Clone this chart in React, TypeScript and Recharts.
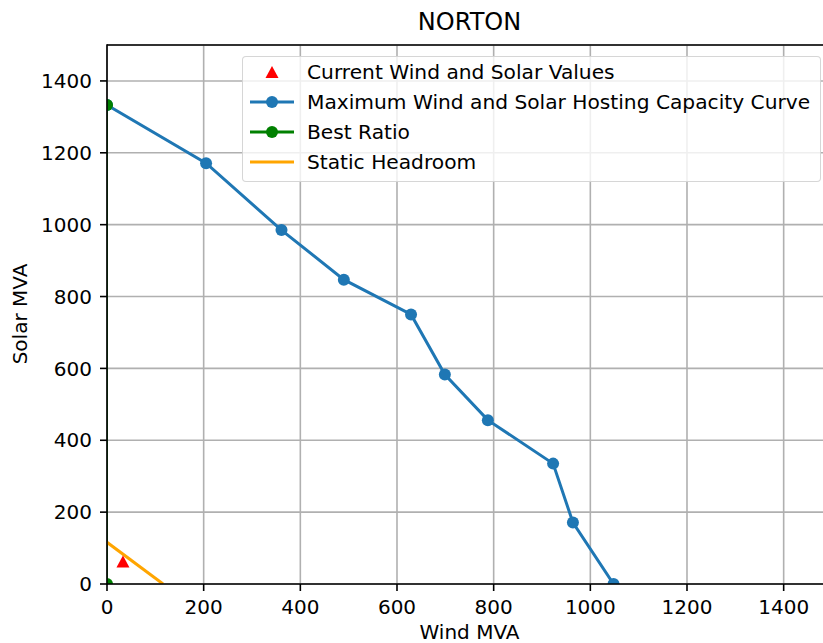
import { CartesianGrid, ComposedChart, Line, Scatter, XAxis, YAxis } from 'recharts'

const windTicks = [0, 200, 400, 600, 800, 1000, 1200, 1400]
const solarTicks = [0, 200, 400, 600, 800, 1000, 1200, 1400]

const curveWind = [0, 205, 361, 490, 629, 699, 788, 923, 964, 1048]
const curveSolar = [1333, 1171, 985, 847, 750, 583, 456, 335, 171, 0]

const currentWind = [33]
const currentSolar = [61]

const bestWind = [0, 0]
const bestSolar = [0, 1333]

const headroomWind = [0, 116]
const headroomSolar = [116, 0]

const FONT = "'DejaVu Sans', sans-serif"
const BLUE = '#1f77b4'
const GREEN = '#008000'
const RED = '#ff0000'
const ORANGE = '#ffa500'

// plot box in page pixels (matches the chart margins below)
const PLOT = { x: 107, y: 45, w: 725, h: 539 }

const toPoints = (xs: number[], ys: number[]) => xs.map((wind, i) => ({ wind, solar: ys[i] }))

const curvePoints = toPoints(curveWind, curveSolar)
const currentPoints = toPoints(currentWind, currentSolar)
const bestPoints = toPoints(bestWind, bestSolar)
const headroomPoints = toPoints(headroomWind, headroomSolar)

function Triangle({ cx, cy }: { cx?: number; cy?: number }) {
  if (cx == null || cy == null) return null
  return <path d={`M${cx},${cy - 6.5} L${cx + 6.5},${cy + 5.5} L${cx - 6.5},${cy + 5.5} Z`} fill={RED} />
}

// dots clipped to the axes box, like matplotlib does
const makeDot = (color: string, id: string) => (props: any) => {
  const { cx, cy, index } = props
  const clipId = `${id}-${index}`
  if (cx == null || cy == null) return <g key={clipId} />
  return (
    <g key={clipId}>
      <clipPath id={clipId}>
        <rect x={PLOT.x} y={PLOT.y} width={PLOT.w} height={PLOT.h} />
      </clipPath>
      <circle cx={cx} cy={cy} r={6} fill={color} clipPath={`url(#${clipId})`} />
    </g>
  )
}

type LegendRow = { label: string; kind: 'triangle' | 'lineDot' | 'line'; color: string }

const legendRows: LegendRow[] = [
  { label: 'Current Wind and Solar Values', kind: 'triangle', color: RED },
  { label: 'Maximum Wind and Solar Hosting Capacity Curve', kind: 'lineDot', color: BLUE },
  { label: 'Best Ratio', kind: 'lineDot', color: GREEN },
  { label: 'Static Headroom', kind: 'line', color: ORANGE },
]

function ChartLegend() {
  return (
    <div
      style={{
        position: 'absolute',
        left: 242,
        top: 56,
        width: 579,
        height: 126,
        boxSizing: 'border-box',
        border: '1px solid rgba(204,204,204,0.8)',
        borderRadius: 4,
        background: 'rgba(255,255,255,0.8)',
      }}
    >
      {legendRows.map((row, i) => (
        <div key={row.label} style={{ position: 'absolute', left: 0, top: i * 30, height: 30, width: 575 }}>
          <svg width={46} height={30} style={{ position: 'absolute', left: 6, top: 0 }}>
            {row.kind !== 'triangle' ? (
              <line x1={1} y1={15} x2={45} y2={15} stroke={row.color} strokeWidth={3} />
            ) : null}
            {row.kind === 'lineDot' ? <circle cx={23} cy={15} r={6} fill={row.color} /> : null}
            {row.kind === 'triangle' ? <path d="M23,9 L29.5,21 L16.5,21 Z" fill={row.color} /> : null}
          </svg>
          <span
            style={{
              position: 'absolute',
              left: 64,
              top: 0,
              lineHeight: '30px',
              fontSize: 20.2,
              color: '#000',
              whiteSpace: 'nowrap',
            }}
          >
            {row.label}
          </span>
        </div>
      ))}
    </div>
  )
}

export default function App() {
  const tickStyle = { fill: '#000', fontSize: 20, fontFamily: FONT }
  const tickLine = { stroke: '#000', strokeWidth: 1.6 }

  return (
    <div
      style={{
        position: 'absolute',
        left: 0,
        top: 0,
        width: 823,
        height: 643,
        overflow: 'hidden',
        background: '#fff',
        fontFamily: FONT,
      }}
    >
      <div
        style={{
          position: 'absolute',
          left: 107,
          width: 725,
          top: 10,
          lineHeight: '24px',
          fontSize: 24,
          textAlign: 'center',
          color: '#000',
        }}
      >
        NORTON
      </div>

      <ComposedChart width={850} height={643} margin={{ top: 45, right: 18, bottom: 0, left: 0 }}>
        <CartesianGrid stroke="#b0b0b0" strokeWidth={1.6} />
        <XAxis
          type="number"
          dataKey="wind"
          domain={[0, 1500]}
          ticks={windTicks}
          interval={0}
          allowDataOverflow
          height={59}
          axisLine={false}
          tickLine={tickLine}
          tickSize={7}
          tickMargin={9}
          tick={tickStyle}
        />
        <YAxis
          type="number"
          dataKey="solar"
          domain={[0, 1500]}
          ticks={solarTicks}
          interval={0}
          allowDataOverflow
          width={107}
          axisLine={false}
          tickLine={tickLine}
          tickSize={7}
          tickMargin={8}
          tick={tickStyle}
        />
        <Scatter data={currentPoints} dataKey="solar" shape={<Triangle />} isAnimationActive={false} />
        <Line
          data={curvePoints}
          dataKey="solar"
          type="linear"
          stroke={BLUE}
          strokeWidth={3}
          dot={makeDot(BLUE, 'curve-dot')}
          activeDot={false}
          isAnimationActive={false}
        />
        <Line
          data={bestPoints}
          dataKey="solar"
          type="linear"
          stroke={GREEN}
          strokeWidth={1.6}
          dot={makeDot(GREEN, 'best-dot')}
          activeDot={false}
          isAnimationActive={false}
        />
        <Line
          data={headroomPoints}
          dataKey="solar"
          type="linear"
          stroke={ORANGE}
          strokeWidth={3}
          dot={false}
          activeDot={false}
          isAnimationActive={false}
        />
      </ComposedChart>

      {/* axes spines on top of the series */}
      <svg
        width={823}
        height={643}
        style={{ position: 'absolute', left: 0, top: 0, pointerEvents: 'none' }}
      >
        <line x1={PLOT.x} y1={PLOT.y - 0.8} x2={PLOT.x} y2={PLOT.y + PLOT.h + 0.8} stroke="#000" strokeWidth={1.6} />
        <line x1={PLOT.x} y1={PLOT.y} x2={PLOT.x + PLOT.w} y2={PLOT.y} stroke="#000" strokeWidth={1.6} />
        <line x1={PLOT.x} y1={PLOT.y + PLOT.h} x2={PLOT.x + PLOT.w} y2={PLOT.y + PLOT.h} stroke="#000" strokeWidth={1.6} />
      </svg>

      <ChartLegend />

      <div
        style={{
          position: 'absolute',
          left: 20,
          top: 314,
          transform: 'translate(-50%, -50%) rotate(-90deg)',
          fontSize: 20,
          lineHeight: '20px',
          whiteSpace: 'nowrap',
          color: '#000',
        }}
      >
        Solar MVA
      </div>
      <div
        style={{
          position: 'absolute',
          left: 107,
          width: 725,
          top: 622,
          fontSize: 20,
          lineHeight: '20px',
          textAlign: 'center',
          color: '#000',
        }}
      >
        Wind MVA
      </div>
    </div>
  )
}
